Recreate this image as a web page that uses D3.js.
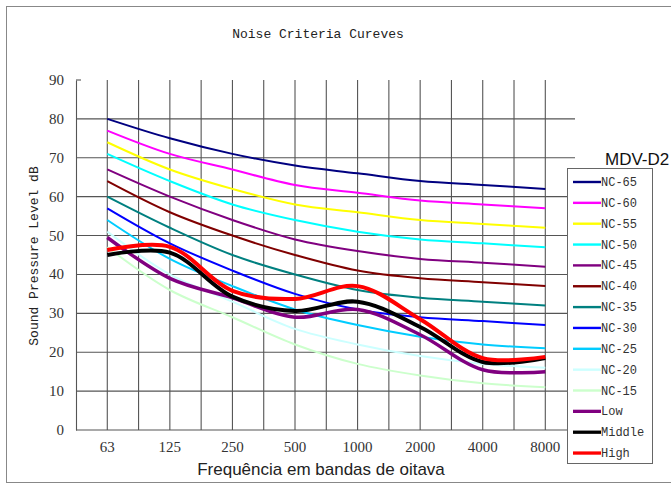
<!DOCTYPE html>
<html>
<head>
<meta charset="utf-8">
<script src="https://cdn.jsdelivr.net/npm/d3@7"></script>
<style>
	body { margin: 0; background: #fff; }
	svg { display: block; }
</style>
</head>
<body onload="onLoad()">
<div></div>
<script>
var bands = ["63", "125", "250", "500", "1000", "2000", "4000", "8000"];
var yTicks = [0, 10, 20, 30, 40, 50, 60, 70, 80, 90];

var seriesNames = ["NC-65", "NC-60", "NC-55", "NC-50", "NC-45", "NC-40", "NC-35",
	"NC-30", "NC-25", "NC-20", "NC-15", "Low", "Middle", "High"];

var nc65 = [80, 75, 71, 68, 66, 64, 63, 62];
var nc60 = [77, 71, 67, 63, 61, 59, 58, 57];
var nc55 = [74, 67, 62, 58, 56, 54, 53, 52];
var nc50 = [71, 64, 58, 54, 51, 49, 48, 47];
var nc45 = [67, 60, 54, 49, 46, 44, 43, 42];
var nc40 = [64, 56, 50, 45, 41, 39, 38, 37];
var nc35 = [60, 52, 45, 40, 36, 34, 33, 32];
var nc30 = [57, 48, 41, 35, 31, 29, 28, 27];
var nc25 = [54, 44, 37, 31, 27, 24, 22, 21];
var nc20 = [51, 40, 33, 26, 22, 19, 17, 16];
var nc15 = [47, 36, 29, 22, 17, 14, 12, 11];
var low = [49.5, 39, 34, 29, 31, 24.5, 15.5, 15];
var middle = [45, 45.6, 34.3, 30.6, 33, 26.5, 17.5, 18.5];
var high = [46.3, 47.1, 35.8, 33.7, 37, 28.5, 18.5, 18.8];

var seriesValues = [nc65, nc60, nc55, nc50, nc45, nc40, nc35,
	nc30, nc25, nc20, nc15, low, middle, high];

var colors = [
	"#000080",
	"#ff00ff",
	"#ffff00",
	"#00ffff",
	"#800080",
	"#800000",
	"#008080",
	"#0000ff",
	"#00ccff",
	"#ccffff",
	"#ccffcc",
	"#800080",
	"#000000",
	"#ff0000"
	];

var lineWidths = [2, 2, 2, 2, 2, 2, 2, 2, 2, 2, 2, 3.5, 4, 4];

var svgContainer, xScale, yScale;
var gridColor = "#555";

function onLoad() {
	svgContainer = d3.select("div")
	.append("svg")
	.attr("width", 671)
	.attr("height", 486);

	xScale = d3.scaleLinear().domain([-0.5, bands.length - 1]).range([76, 545.3]);
	yScale = d3.scaleLinear().domain([0, 90]).range([430, 80]);

	drawFrame();
	drawGrid();
	drawSeries();
	drawLabels();
	drawLegend();
}

///////////////////////////////////
////////////DRAWING////////////////
///////////////////////////////////

function drawFrame() {
	svgContainer.append("rect")
	.attr("x", 6.5)
	.attr("y", 6.5)
	.attr("width", 700)
	.attr("height", 476)
	.attr("fill", "none")
	.attr("stroke", "#888")
	.attr("stroke-width", 1);
}

function drawGrid() {
	// vertical lines on every band and half band
	var xs = d3.range(0, bands.length - 0.99, 0.5);
	svgContainer.append("g")
	.selectAll("line")
	.data(xs)
	.enter()
	.append("line")
	.attr("x1", d => xScale(d))
	.attr("x2", d => xScale(d))
	.attr("y1", yScale(90))
	.attr("y2", yScale(0))
	.attr("stroke", gridColor)
	.attr("stroke-width", 1.1);

	// horizontal lines, 0 is the axis
	svgContainer.append("g")
	.selectAll("line")
	.data(yTicks.filter(d => d < 90))
	.enter()
	.append("line")
	.attr("x1", xScale(-0.5))
	.attr("x2", 575)
	.attr("y1", d => yScale(d))
	.attr("y2", d => yScale(d))
	.attr("stroke", gridColor)
	.attr("stroke-width", 1.1);

	// y axis
	var yAxis = d3.axisLeft(yScale).tickValues([]).tickSizeOuter(0);
	var yAxisGroup = svgContainer.append("g")
	.attr("transform", "translate(" + xScale(-0.5) + ",0)")
	.call(yAxis);
	yAxisGroup.select(".domain").attr("stroke", gridColor).attr("stroke-width", 1.1);

	svgContainer.append("line")
	.attr("x1", xScale(-0.5))
	.attr("x2", xScale(-0.5) + 5)
	.attr("y1", yScale(90))
	.attr("y2", yScale(90))
	.attr("stroke", gridColor)
	.attr("stroke-width", 1.1);

	svgContainer.append("g")
	.selectAll("text")
	.data(yTicks)
	.enter()
	.append("text")
	.attr("x", 64)
	.attr("y", d => yScale(d) + 5)
	.attr("text-anchor", "end")
	.style("font-family", "'Liberation Serif', serif")
	.style("font-size", "15px")
	.attr("fill", "#333")
	.text(d => d);

	svgContainer.append("g")
	.selectAll("text")
	.data(bands)
	.enter()
	.append("text")
	.attr("x", (d, i) => xScale(i))
	.attr("y", 452)
	.attr("text-anchor", "middle")
	.style("font-family", "'Liberation Serif', serif")
	.style("font-size", "15px")
	.attr("fill", "#333")
	.text(d => d);
}

function drawSeries() {
	var line = d3.line()
	.x((d, i) => xScale(i))
	.y(d => yScale(d))
	.curve(d3.curveCatmullRom);

	svgContainer.append("g")
	.selectAll("path")
	.data(seriesValues)
	.enter()
	.append("path")
	.attr("d", d => line(d))
	.attr("fill", "none")
	.attr("stroke", (d, i) => colors[i])
	.attr("stroke-width", (d, i) => lineWidths[i])
	.attr("stroke-linejoin", "round");
}

function drawLabels() {
	svgContainer.append("text")
	.attr("x", 318)
	.attr("y", 38)
	.attr("text-anchor", "middle")
	.style("font-family", "'Liberation Mono', monospace")
	.style("font-size", "13px")
	.attr("fill", "#222")
	.text("Noise Criteria Cureves");

	svgContainer.append("text")
	.attr("transform", "translate(38,256) rotate(-90)")
	.attr("text-anchor", "middle")
	.style("font-family", "'Liberation Mono', monospace")
	.style("font-size", "13px")
	.attr("fill", "#222")
	.text("Sound Pressure Level dB");

	svgContainer.append("text")
	.attr("x", 321)
	.attr("y", 475)
	.attr("text-anchor", "middle")
	.style("font-family", "'Liberation Sans', Arial, sans-serif")
	.style("font-size", "17px")
	.attr("fill", "#222")
	.text("Frequência em bandas de oitava");

	svgContainer.append("text")
	.attr("x", 605)
	.attr("y", 165)
	.style("font-family", "'Liberation Sans', Arial, sans-serif")
	.style("font-size", "17px")
	.attr("fill", "#111")
	.text("MDV-D2");
}

function drawLegend() {
	var top = 182, step = 20.85;

	svgContainer.append("rect")
	.attr("x", 567.5)
	.attr("y", 168.5)
	.attr("width", 85)
	.attr("height", 295)
	.attr("fill", "#fff")
	.attr("stroke", "#666")
	.attr("stroke-width", 1);

	var items = svgContainer.append("g")
	.selectAll("g")
	.data(seriesNames)
	.enter()
	.append("g")
	.attr("transform", (d, i) => "translate(0," + (top + i * step) + ")");

	items.append("line")
	.attr("x1", 573)
	.attr("x2", 601)
	.attr("stroke", (d, i) => colors[i])
	.attr("stroke-width", (d, i) => i > 10 ? 3.3 : 2.4);

	items.append("text")
	.attr("x", 601)
	.attr("y", 4)
	.style("font-family", "'Liberation Mono', monospace")
	.style("font-size", "12px")
	.attr("fill", "#333")
	.text(d => d);
}
</script>
</body>
</html>
